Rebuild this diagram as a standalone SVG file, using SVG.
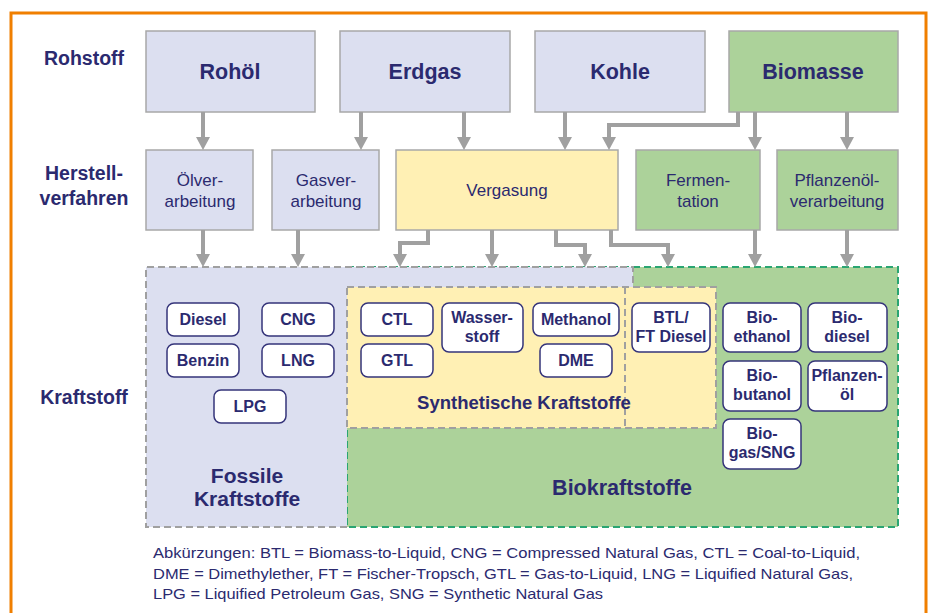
<svg xmlns="http://www.w3.org/2000/svg" width="931" height="613" viewBox="0 0 931 613">
<defs>
<style>
.t{font-family:"Liberation Sans",Arial,sans-serif;fill:#2b2a6f;text-anchor:middle}
.b{font-weight:bold}
.raw{fill:#dcdff0;stroke:#a8a8a8;stroke-width:1.5}
.bio{fill:#acd29a;stroke:#a8a8a8;stroke-width:1.5}
.gas{fill:#fff0b4;stroke:#a8a8a8;stroke-width:1.5}
.fuel{fill:#ffffff;stroke:#35347a;stroke-width:1.5}
.conn{fill:none;stroke:#a0a0a0;stroke-width:4;marker-end:url(#ah)}
.dg{stroke:#a0a0a0;stroke-width:2;stroke-dasharray:7,4;fill:none}
.dgr{stroke:#2aa572;stroke-width:2;stroke-dasharray:7,4;fill:none}
</style>
<marker id="ah" markerUnits="userSpaceOnUse" markerWidth="14" markerHeight="14" refX="0" refY="7" orient="auto">
<path d="M0,0 L13,7 L0,14 z" fill="#a0a0a0"/>
</marker>
</defs>
<rect x="0" y="0" width="931" height="613" fill="#ffffff"/>
<rect x="11" y="13" width="915" height="620" fill="none" stroke="#f07f00" stroke-width="3"/>

<!-- row labels -->
<g id="row-labels">
<text class="t b" x="84" y="65" font-size="19.5">Rohstoff</text>
<text class="t b" x="84" y="180" font-size="19.5">Herstell-</text>
<text class="t b" x="84" y="205" font-size="19.5">verfahren</text>
<text class="t b" x="84" y="404" font-size="19.5">Kraftstoff</text>
</g>

<!-- areas -->
<g id="area-bio">
<rect x="347" y="267" width="551" height="260" fill="#acd29a"/>
<rect x="347" y="267" width="551" height="260" class="dgr"/>
</g>
<g id="area-fossil">
<path d="M146,267 H633 V287 H347 V527 H146 Z" fill="#dcdff0"/>
<path d="M347,527 H146 V267 H633 V287" class="dg"/>
</g>
<g id="area-synth">
<rect x="347" y="287" width="369" height="141" fill="#fff0b4"/>
<rect x="347" y="287" width="369" height="141" class="dg"/>
<line x1="625" y1="287" x2="625" y2="428" class="dg"/>
</g>
<text class="t b" x="247" y="483" font-size="21">Fossile</text>
<text class="t b" x="247" y="506" font-size="21">Kraftstoffe</text>
<text class="t b" x="524" y="409" font-size="18.5">Synthetische Kraftstoffe</text>
<text class="t b" x="622" y="495" font-size="21.5">Biokraftstoffe</text>

<!-- raw materials -->
<g id="rohoel"><rect class="raw" x="146" y="31" width="169" height="81"/><text class="t b" x="230" y="79" font-size="21.5">Rohöl</text></g>
<g id="erdgas"><rect class="raw" x="340" y="31" width="170" height="81"/><text class="t b" x="425" y="79" font-size="21.5">Erdgas</text></g>
<g id="kohle"><rect class="raw" x="535" y="31" width="170" height="81"/><text class="t b" x="620" y="79" font-size="21.5">Kohle</text></g>
<g id="biomasse"><rect class="bio" x="729" y="31" width="169" height="81"/><text class="t b" x="813" y="79" font-size="21.5">Biomasse</text></g>

<!-- processes -->
<g id="oelverarbeitung"><rect class="raw" x="146" y="150" width="107" height="80"/><text class="t" x="200" y="186" font-size="17">Ölver-</text><text class="t" x="200" y="207" font-size="17">arbeitung</text></g>
<g id="gasverarbeitung"><rect class="raw" x="272" y="150" width="107" height="80"/><text class="t" x="326" y="186" font-size="17">Gasver-</text><text class="t" x="326" y="207" font-size="17">arbeitung</text></g>
<g id="vergasung"><rect class="gas" x="396" y="150" width="222" height="80"/><text class="t" x="507" y="196" font-size="17">Vergasung</text></g>
<g id="fermentation"><rect class="bio" x="636" y="150" width="124" height="80"/><text class="t" x="698" y="186" font-size="17">Fermen-</text><text class="t" x="698" y="207" font-size="17">tation</text></g>
<g id="pflanzenoelverarbeitung"><rect class="bio" x="777" y="150" width="121" height="80"/><text class="t" x="837" y="186" font-size="17">Pflanzenöl-</text><text class="t" x="837" y="207" font-size="17">verarbeitung</text></g>

<!-- connectors -->
<g id="connectors">
<path class="conn" d="M203,112 V137"/>
<path class="conn" d="M361,112 V137"/>
<path class="conn" d="M464,112 V137"/>
<path class="conn" d="M565,112 V137"/>
<path class="conn" d="M738,112 V125 H609 V137"/>
<path class="conn" d="M755,112 V137"/>
<path class="conn" d="M847,112 V137"/>
<path class="conn" d="M203,230 V254"/>
<path class="conn" d="M298,230 V254"/>
<path class="conn" d="M428,230 V243 H400 V254"/>
<path class="conn" d="M492,230 V254"/>
<path class="conn" d="M556,230 V245 H585 V254"/>
<path class="conn" d="M611,230 V245 H668 V254"/>
<path class="conn" d="M755,230 V254"/>
<path class="conn" d="M847,230 V254"/>
</g>

<!-- fuels -->
<g id="diesel"><rect class="fuel" x="167" y="303" width="72" height="33" rx="7"/><text class="t b" x="203" y="325" font-size="16">Diesel</text></g>
<g id="cng"><rect class="fuel" x="262" y="303" width="72" height="33" rx="7"/><text class="t b" x="298" y="325" font-size="16">CNG</text></g>
<g id="benzin"><rect class="fuel" x="167" y="344" width="72" height="33" rx="7"/><text class="t b" x="203" y="366" font-size="16">Benzin</text></g>
<g id="lng"><rect class="fuel" x="262" y="344" width="72" height="33" rx="7"/><text class="t b" x="298" y="366" font-size="16">LNG</text></g>
<g id="lpg"><rect class="fuel" x="214" y="390" width="72" height="33" rx="7"/><text class="t b" x="250" y="412" font-size="16">LPG</text></g>
<g id="ctl"><rect class="fuel" x="361" y="303" width="72" height="33" rx="7"/><text class="t b" x="397" y="325" font-size="16">CTL</text></g>
<g id="gtl"><rect class="fuel" x="361" y="344" width="72" height="33" rx="7"/><text class="t b" x="397" y="366" font-size="16">GTL</text></g>
<g id="wasserstoff"><rect class="fuel" x="442" y="303" width="81" height="49" rx="7"/><text class="t b" x="482" y="323" font-size="16">Wasser-</text><text class="t b" x="482" y="342" font-size="16">stoff</text></g>
<g id="methanol"><rect class="fuel" x="533" y="303" width="86" height="33" rx="7"/><text class="t b" x="576" y="325" font-size="16">Methanol</text></g>
<g id="dme"><rect class="fuel" x="540" y="344" width="72" height="33" rx="7"/><text class="t b" x="576" y="366" font-size="16">DME</text></g>
<g id="btl"><rect class="fuel" x="632" y="303" width="78" height="49" rx="7"/><text class="t b" x="671" y="323" font-size="16">BTL/</text><text class="t b" x="671" y="342" font-size="16">FT Diesel</text></g>
<g id="bioethanol"><rect class="fuel" x="723" y="303" width="78" height="49" rx="7"/><text class="t b" x="762" y="323" font-size="16">Bio-</text><text class="t b" x="762" y="342" font-size="16">ethanol</text></g>
<g id="biodiesel"><rect class="fuel" x="808" y="303" width="79" height="49" rx="7"/><text class="t b" x="847" y="323" font-size="16">Bio-</text><text class="t b" x="847" y="342" font-size="16">diesel</text></g>
<g id="biobutanol"><rect class="fuel" x="723" y="361" width="78" height="50" rx="7"/><text class="t b" x="762" y="381" font-size="16">Bio-</text><text class="t b" x="762" y="400" font-size="16">butanol</text></g>
<g id="pflanzenoel"><rect class="fuel" x="808" y="361" width="79" height="50" rx="7"/><text class="t b" x="847" y="381" font-size="16">Pflanzen-</text><text class="t b" x="847" y="400" font-size="16">öl</text></g>
<g id="biogas"><rect class="fuel" x="723" y="419" width="78" height="50" rx="7"/><text class="t b" x="762" y="439" font-size="16">Bio-</text><text class="t b" x="762" y="458" font-size="16">gas/SNG</text></g>

<!-- legend -->
<g id="legend" font-family="Liberation Sans, Arial, sans-serif" font-size="15" fill="#2b2a6f">
<text x="153" y="558" textLength="707" lengthAdjust="spacingAndGlyphs">Abkürzungen: BTL = Biomass-to-Liquid, CNG = Compressed Natural Gas,  CTL = Coal-to-Liquid,</text>
<text x="153" y="579" textLength="700" lengthAdjust="spacingAndGlyphs">DME = Dimethylether, FT = Fischer-Tropsch, GTL = Gas-to-Liquid, LNG = Liquified Natural Gas,</text>
<text x="153" y="599" textLength="450" lengthAdjust="spacingAndGlyphs">LPG = Liquified Petroleum Gas, SNG = Synthetic Natural Gas</text>
</g>
</svg>
